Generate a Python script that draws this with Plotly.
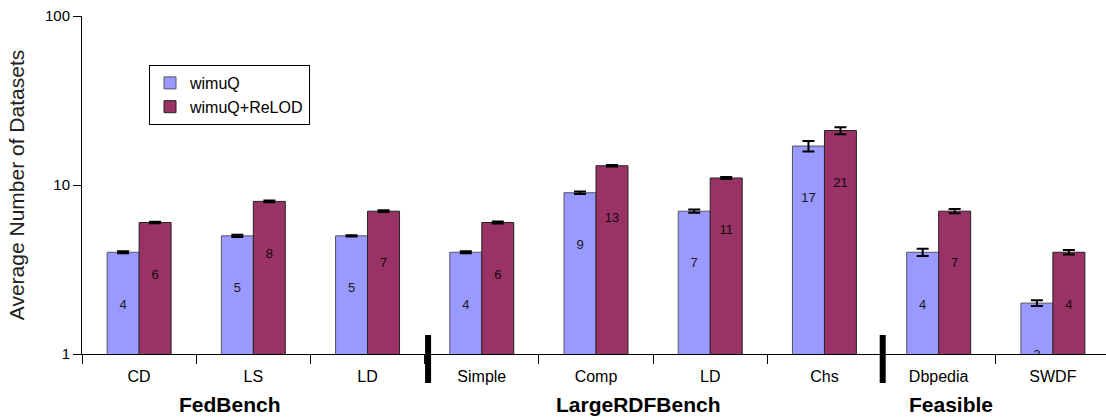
import plotly.graph_objects as go

categories = ["CD", "LS", "LD", "Simple", "Comp", "LD", "Chs", "Dbpedia", "SWDF"]
wimuq = [4, 5, 5, 4, 9, 7, 17, 4, 2]
wimuq_err = [0.05, 0.08, 0.05, 0.05, 0.15, 0.15, 1.2, 0.2, 0.08]
relod = [6, 8, 7, 6, 13, 11, 21, 7, 4]
relod_err = [0.06, 0.1, 0.08, 0.08, 0.15, 0.15, 1.0, 0.2, 0.12]
groups = ["FedBench", "LargeRDFBench", "Feasible"]
group_pos = [0.80, 4.37, 7.11]
separators = [2.53, 6.51]

FONT = "Liberation Sans, Arial, sans-serif"
idx = list(range(len(categories)))

# layout constants
L, T, B, R = 82, 16, 65, 0
W, H = 1106, 419
plot_h = H - T - B
px_per_decade = plot_h / 2.0
label_drop = 53  # px below bar top
drop = 10 ** (-label_drop / px_per_decade)
half = 0.14

fig = go.Figure()
fig.add_trace(go.Bar(
    x=idx, y=wimuq, name="wimuQ",
    marker=dict(color="#9999FF", line=dict(color="#555566", width=1)),
    error_y=dict(type="data", array=wimuq_err, color="black", thickness=2, width=6),
))
fig.add_trace(go.Bar(
    x=idx, y=relod, name="wimuQ+ReLOD",
    marker=dict(color="#993366", line=dict(color="#222222", width=1)),
    error_y=dict(type="data", array=relod_err, color="black", thickness=2, width=6),
))
fig.add_trace(go.Scatter(
    x=[i - half for i in idx], y=[v * drop for v in wimuq],
    mode="text", text=[str(v) for v in wimuq], textposition="middle center",
    textfont=dict(size=13, color="#1a1a1a", family=FONT),
    showlegend=False, hoverinfo="skip", cliponaxis=True,
))
fig.add_trace(go.Scatter(
    x=[i + half for i in idx], y=[v * drop for v in relod],
    mode="text", text=[str(v) for v in relod], textposition="middle center",
    textfont=dict(size=13, color="#14060d", family=FONT),
    showlegend=False, hoverinfo="skip", cliponaxis=True,
))

for s in separators:
    fig.add_shape(type="line", xref="x", yref="paper", x0=s, x1=s,
                  y0=(H - B - 335) / plot_h, y1=(H - B - 383) / plot_h,
                  line=dict(color="black", width=6))

for g, p in zip(groups, group_pos):
    fig.add_annotation(x=p, y=(H - B - 404) / plot_h, xref="x", yref="paper",
                       text=f"<b>{g}</b>", showarrow=False, yanchor="middle",
                       font=dict(size=21, color="black", family=FONT))

fig.update_layout(
    width=W, height=H,
    margin=dict(l=L, r=R, t=T, b=B, autoexpand=False),
    paper_bgcolor="white", plot_bgcolor="white",
    barmode="group", bargap=0.44, bargroupgap=0,
    font=dict(family=FONT, color="black"),
    showlegend=True,
    legend=dict(x=(149 - L) / (W - L - R), y=(H - B - 65) / plot_h,
                xanchor="left", yanchor="top",
                bordercolor="black", borderwidth=1, bgcolor="white",
                font=dict(size=16, color="black", family=FONT),
                tracegroupgap=0, itemwidth=30),
)
fig.update_xaxes(
    range=[-0.5, 8.465],
    tickmode="array", tickvals=idx, ticktext=categories,
    ticks="outside", ticklen=8, tickcolor="rgba(0,0,0,0)",
    tickfont=dict(size=16, color="black", family=FONT),
    minor=dict(tickmode="linear", tick0=-0.5, dtick=1, ticks="outside",
               ticklen=9, tickcolor="black", tickwidth=1, showgrid=False),
    showline=True, linecolor="black", linewidth=1,
    showgrid=False, zeroline=False,
)
fig.update_yaxes(
    type="log", range=[0, 2],
    tickmode="array", tickvals=[1, 10, 100], ticktext=["1", "10", "100"],
    ticks="outside", ticklen=8, tickcolor="black",
    tickfont=dict(size=15, color="black", family=FONT),
    showline=True, linecolor="black", linewidth=1,
    showgrid=False, zeroline=False,
    title=dict(text="Average Number of Datasets", standoff=14,
               font=dict(size=21, color="#222222", family=FONT)),
)

fig.write_html("out.html", config={"displayModeBar": False},
               post_script="document.body.style.margin='0';document.body.style.overflow='hidden';")
